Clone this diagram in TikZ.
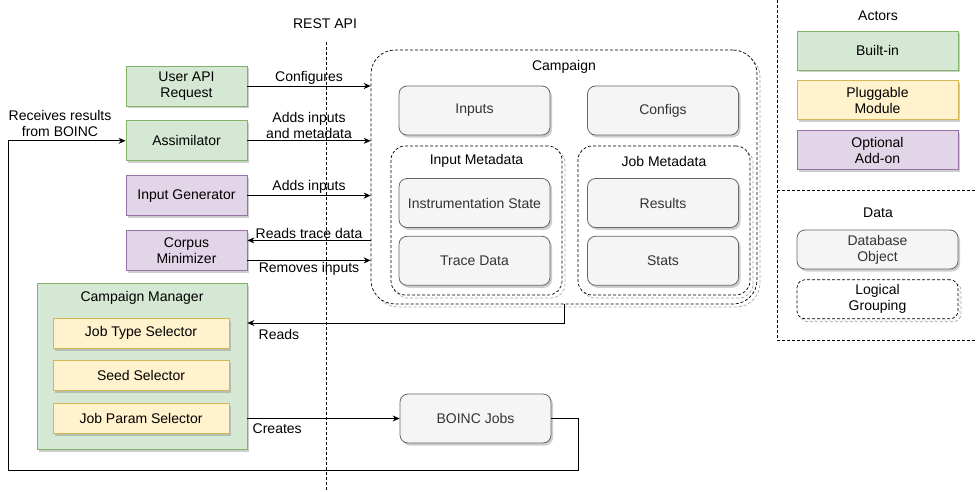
\documentclass[tikz,border=0pt]{standalone}
\usepackage{fontspec}
\setmainfont{Liberation Sans}
\usetikzlibrary{shapes,arrows.meta,positioning,shadows,calc}

\definecolor{grnfill}{HTML}{D5E8D4}
\definecolor{grndraw}{HTML}{82B366}
\definecolor{ylwfill}{HTML}{FFF2CC}
\definecolor{ylwdraw}{HTML}{D6B656}
\definecolor{prpfill}{HTML}{E1D5E7}
\definecolor{prpdraw}{HTML}{9673A6}
\definecolor{gryfill}{HTML}{F5F5F5}
\definecolor{grydraw}{HTML}{666666}
\definecolor{grytext}{HTML}{333333}

\tikzset{
  box/.style={draw, align=center, inner sep=2pt, line width=0.8pt,
    minimum width=121pt, minimum height=40pt,
    drop shadow={shadow xshift=2pt, shadow yshift=-2.5pt, opacity=0.35, fill=black!55}},
  builtin/.style={box, fill=grnfill, draw=grndraw},
  plugin/.style={box, fill=ylwfill, draw=ylwdraw},
  addon/.style={box, fill=prpfill, draw=prpdraw},
  dbobj/.style={box, rounded corners=8pt, fill=gryfill, draw=grydraw, text=grytext,
    minimum width=151pt, minimum height=49pt},
  grp/.style={draw, fill=white, line width=0.7pt, dash pattern=on 3pt off 2pt,
    drop shadow={shadow xshift=3pt, shadow yshift=-3pt, opacity=1, fill=none,
      draw=black!35, line width=0.7pt, dash pattern=on 3pt off 2pt}},
  sep/.style={line width=0.7pt, dash pattern=on 3pt off 2pt},
  arr/.style={-{Stealth[length=7pt,width=6pt]}, line width=0.8pt},
  lbl/.style={inner sep=1.5pt, align=center},
}

\begin{document}
\begin{tikzpicture}[x=1pt, y=-1pt, font=\fontsize{14}{16}\selectfont]
  \useasboundingbox (0,0) rectangle (976,492);
  % rest api boundary
  \node (restlbl) at (325,24) {REST API};
  \coordinate (resttop) at (326,42);
  \coordinate (restbot) at (326,492);
  \draw[sep] (resttop) -- (restbot);
  %
  \node[builtin] (userreq) at (186.5,86) {User API\\Request};
  \node[builtin, below=14pt of userreq] (assim) {Assimilator};
  \node[addon, below=14pt of assim] (inputgen) {Input Generator};
  \node[addon, below=14pt of inputgen] (corpus) {Corpus\\Minimizer};
  %
  \node[builtin, minimum width=210pt, minimum height=166pt] (manager) at (142,366) {};
  \node at (142,298) (mantitle) {Campaign Manager};
  \node[plugin, minimum width=176pt, minimum height=30pt] (jobtype) at (141,333) {Job Type Selector};
  \node[plugin, minimum width=176pt, minimum height=30pt, below=12pt of jobtype] (seedsel) {Seed Selector};
  \node[plugin, minimum width=176pt, minimum height=30pt, below=12pt of seedsel] (jobparam) {Job Param Selector};
  %
  \node[grp, rounded corners=24pt, minimum width=386pt, minimum height=254pt] (campaign) at (564,177) {};
  \node at (564,67) (camptitle) {Campaign};
  \node[dbobj] (inputs) at (474.5,110.5) {Inputs};
  \node[dbobj] (configs) at (663,110.5) {Configs};
  \node[grp, rounded corners=14pt, minimum width=171pt, minimum height=149pt] (inmeta) at (476.5,220.5) {};
  \node at (476.5,161) (inmetatitle) {Input Metadata};
  \node[dbobj] (instr) at (474.5,203) {Instrumentation State};
  \node[dbobj, below=8pt of instr] (trace) {Trace Data};
  \node[grp, rounded corners=14pt, minimum width=172pt, minimum height=149pt] (jobmeta) at (664,220.5) {};
  \node at (664,161) (jobmetatitle) {Job Metadata};
  \node[dbobj] (results) at (663,203) {Results};
  \node[dbobj, below=8pt of results] (stats) {Stats};
  %
  \node[dbobj] (boinc) at (475.5,418.5) {BOINC Jobs};
  %
  \draw[arr] (userreq.east) -- (userreq.east -| campaign.west)
    node[lbl, midway, above] {Configures};
  \draw[arr] (assim.east) -- (assim.east -| campaign.west)
    node[lbl, midway, above] {Adds inputs\\and metadata};
  \draw[arr] (inputgen.east) -- (inputgen.east -| campaign.west)
    node[lbl, midway, above] {Adds inputs};
  \draw[arr] ([yshift=10pt]corpus.east -| campaign.west) -- ([yshift=10pt]corpus.east)
    node[lbl, midway, above] {Reads trace data};
  \draw[arr] ([yshift=-10pt]corpus.east) -- ([yshift=-10pt]corpus.east -| campaign.west)
    node[lbl, midway, below] {Removes inputs};
  %
  \draw[arr] (campaign.south) |- ([yshift=43pt]manager.east);
  \node[lbl, anchor=west] at (257,334) (readslbl) {Reads};
  \draw[arr] (boinc.west -| manager.east) -- (boinc.west);
  \node[lbl, anchor=west] at (251,429) (createslbl) {Creates};
  %
  \coordinate (loopr) at (578,470);
  \coordinate (loopl) at (8,470);
  \draw[arr] (boinc.east) -| (loopr) -- (loopl) |- (assim.west);
  \node[lbl] at (60,123.5) (recvlbl) {Receives results\\from BOINC};
  %
  % legend
  \draw[sep] (777,0) -- (777,340) -- (976,340);
  \draw[sep] (777,190) -- (976,190);
  \node at (878,16) (actorstitle) {Actors};
  \node[builtin, minimum width=161pt, minimum height=39pt] (legbuiltin) at (877.5,50.5) {Built-in};
  \node[plugin, minimum width=161pt, minimum height=39pt, below=10pt of legbuiltin] (legplugin) {Pluggable\\Module};
  \node[addon, minimum width=161pt, minimum height=39pt, below=10pt of legplugin] (legaddon) {Optional\\Add-on};
  \node at (878,213) (datatitle) {Data};
  \node[dbobj, minimum width=161pt, minimum height=39pt] (legdb) at (877.5,249.5) {Database\\Object};
  \node[grp, rounded corners=8pt, drop shadow={opacity=0.35, fill=none, draw=black!30, dash pattern=on 3pt off 2pt,
    shadow xshift=1.5pt, shadow yshift=-1.5pt}, minimum width=161pt, minimum height=39pt,
    below=10pt of legdb, align=center] (leggroup) {Logical\\Grouping};
\end{tikzpicture}
\end{document}
